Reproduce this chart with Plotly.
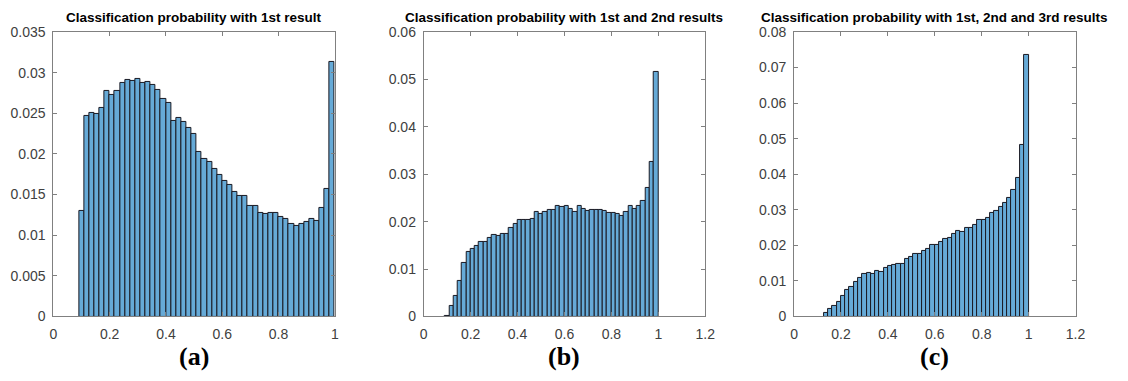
import plotly.graph_objects as go

# Histogram bins: width 1/55, panels start at bin index 5, 5 and 7
bin_count = 55
start_bin_a = 5
start_bin_b = 5
start_bin_c = 7

prob_a = [0.0130, 0.0247, 0.0250, 0.0249, 0.0256, 0.0277, 0.0273, 0.0277, 0.0287, 0.0291,
          0.0290, 0.0292, 0.0287, 0.0288, 0.0285, 0.0279, 0.0268, 0.0263, 0.0241, 0.0244,
          0.0239, 0.0232, 0.0225, 0.0203, 0.0194, 0.0190, 0.0181, 0.0174, 0.0167, 0.0162,
          0.0153, 0.0148, 0.0148, 0.0136, 0.0136, 0.0127, 0.0126, 0.0127, 0.0127, 0.0122,
          0.0120, 0.0114, 0.0111, 0.0114, 0.0116, 0.0120, 0.0118, 0.0134, 0.0157, 0.0313]

prob_b = [0.0002, 0.0022, 0.0043, 0.0074, 0.0112, 0.0136, 0.0142, 0.0148, 0.0157, 0.0157,
          0.0165, 0.0171, 0.0169, 0.0175, 0.0174, 0.0187, 0.0195, 0.0203, 0.0203, 0.0204,
          0.0206, 0.0221, 0.0216, 0.0220, 0.0225, 0.0225, 0.0233, 0.0231, 0.0233, 0.0226,
          0.0221, 0.0233, 0.0226, 0.0223, 0.0225, 0.0224, 0.0224, 0.0223, 0.0219, 0.0218,
          0.0217, 0.0213, 0.0220, 0.0233, 0.0226, 0.0233, 0.0243, 0.0272, 0.0326, 0.0516]

prob_c = [0.0011, 0.0022, 0.0030, 0.0042, 0.0058, 0.0074, 0.0082, 0.0096, 0.0109, 0.0120,
          0.0122, 0.0120, 0.0128, 0.0126, 0.0137, 0.0141, 0.0144, 0.0148, 0.0148, 0.0163,
          0.0166, 0.0175, 0.0175, 0.0184, 0.0191, 0.0200, 0.0200, 0.0209, 0.0218, 0.0222,
          0.0232, 0.0241, 0.0237, 0.0250, 0.0250, 0.0256, 0.0271, 0.0272, 0.0278, 0.0292,
          0.0298, 0.0307, 0.0318, 0.0332, 0.0356, 0.0389, 0.0481, 0.0735]

titles = ["Classification probability with 1st result",
          "Classification probability with 1st and 2nd results",
          "Classification probability with 1st, 2nd and 3rd results"]
panel_labels = ["(a)", "(b)", "(c)"]

x_ticks_a = [0, 0.2, 0.4, 0.6, 0.8, 1]
x_ticks_bc = [0, 0.2, 0.4, 0.6, 0.8, 1, 1.2]
y_ticks_a = [0, 0.005, 0.01, 0.015, 0.02, 0.025, 0.03, 0.035]
y_ticks_b = [0, 0.01, 0.02, 0.03, 0.04, 0.05, 0.06]
y_ticks_c = [0, 0.01, 0.02, 0.03, 0.04, 0.05, 0.06, 0.07, 0.08]

W, H = 1128, 381
BAR_FILL = "rgb(102,170,215)"
BAR_EDGE = "rgb(25,25,35)"
AXIS_COLOR = "rgb(128,128,128)"
TICK_FONT = dict(family="Liberation Sans, Arial", size=14, color="rgb(64,64,64)")


def fmt(v):
    return ("%g" % v)


panels = [
    (prob_a, start_bin_a, x_ticks_a, [0, 1], y_ticks_a, (50, 335)),
    (prob_b, start_bin_b, x_ticks_bc, [0, 1.2], y_ticks_b, (425, 710)),
    (prob_c, start_bin_c, x_ticks_bc, [0, 1.2], y_ticks_c, (800, 1085)),
]

plot_top, plot_bottom = 25, 322

fig = go.Figure()
layout = dict(
    width=W, height=H,
    margin=dict(l=0, r=0, t=0, b=0),
    paper_bgcolor="white", plot_bgcolor="white",
    showlegend=False,
    bargap=0,
)
annotations = []

for i, (vals, start, xt, xr, yt, (px0, px1)) in enumerate(panels):
    n = i + 1
    xa = "x" if n == 1 else f"x{n}"
    ya = "y" if n == 1 else f"y{n}"
    centers = [(start + k + 0.5) / bin_count for k in range(len(vals))]
    fig.add_trace(go.Bar(
        x=centers, y=vals, width=1 / bin_count,
        marker=dict(color=BAR_FILL, line=dict(color=BAR_EDGE, width=1)),
        xaxis=xa, yaxis=ya,
    ))
    common = dict(
        showline=True, linecolor=AXIS_COLOR, linewidth=1, mirror="ticks",
        ticks="inside", ticklen=4, tickcolor=AXIS_COLOR, tickwidth=1,
        showgrid=False, zeroline=False, tickfont=TICK_FONT,
    )
    layout["xaxis" if n == 1 else f"xaxis{n}"] = dict(
        domain=[px0 / W, px1 / W], range=xr, anchor=ya,
        tickvals=xt, ticktext=[fmt(v) for v in xt], ticklabelstandoff=5, **common)
    layout["yaxis" if n == 1 else f"yaxis{n}"] = dict(
        domain=[1 - plot_bottom / H, 1 - plot_top / H], range=[yt[0], yt[-1]], anchor=xa,
        tickvals=yt, ticktext=[fmt(v) for v in yt], ticklabelstandoff=4, **common)
    cx = (px0 + px1) / 2 / W
    annotations.append(dict(
        text="<b>" + titles[i] + "</b>", x=cx, y=1 - 10 / H, xref="paper", yref="paper",
        xanchor="center", yanchor="middle", showarrow=False,
        font=dict(family="Liberation Sans, Arial", size=13.5, color="black")))
    annotations.append(dict(
        text="<b>" + panel_labels[i] + "</b>", x=cx, y=1 - 364 / H, xref="paper", yref="paper",
        xanchor="center", yanchor="middle", showarrow=False,
        font=dict(family="Liberation Serif, Times New Roman", size=26, color="black")))

layout["annotations"] = annotations
fig.update_layout(**layout)
fig.write_html("out.html")
